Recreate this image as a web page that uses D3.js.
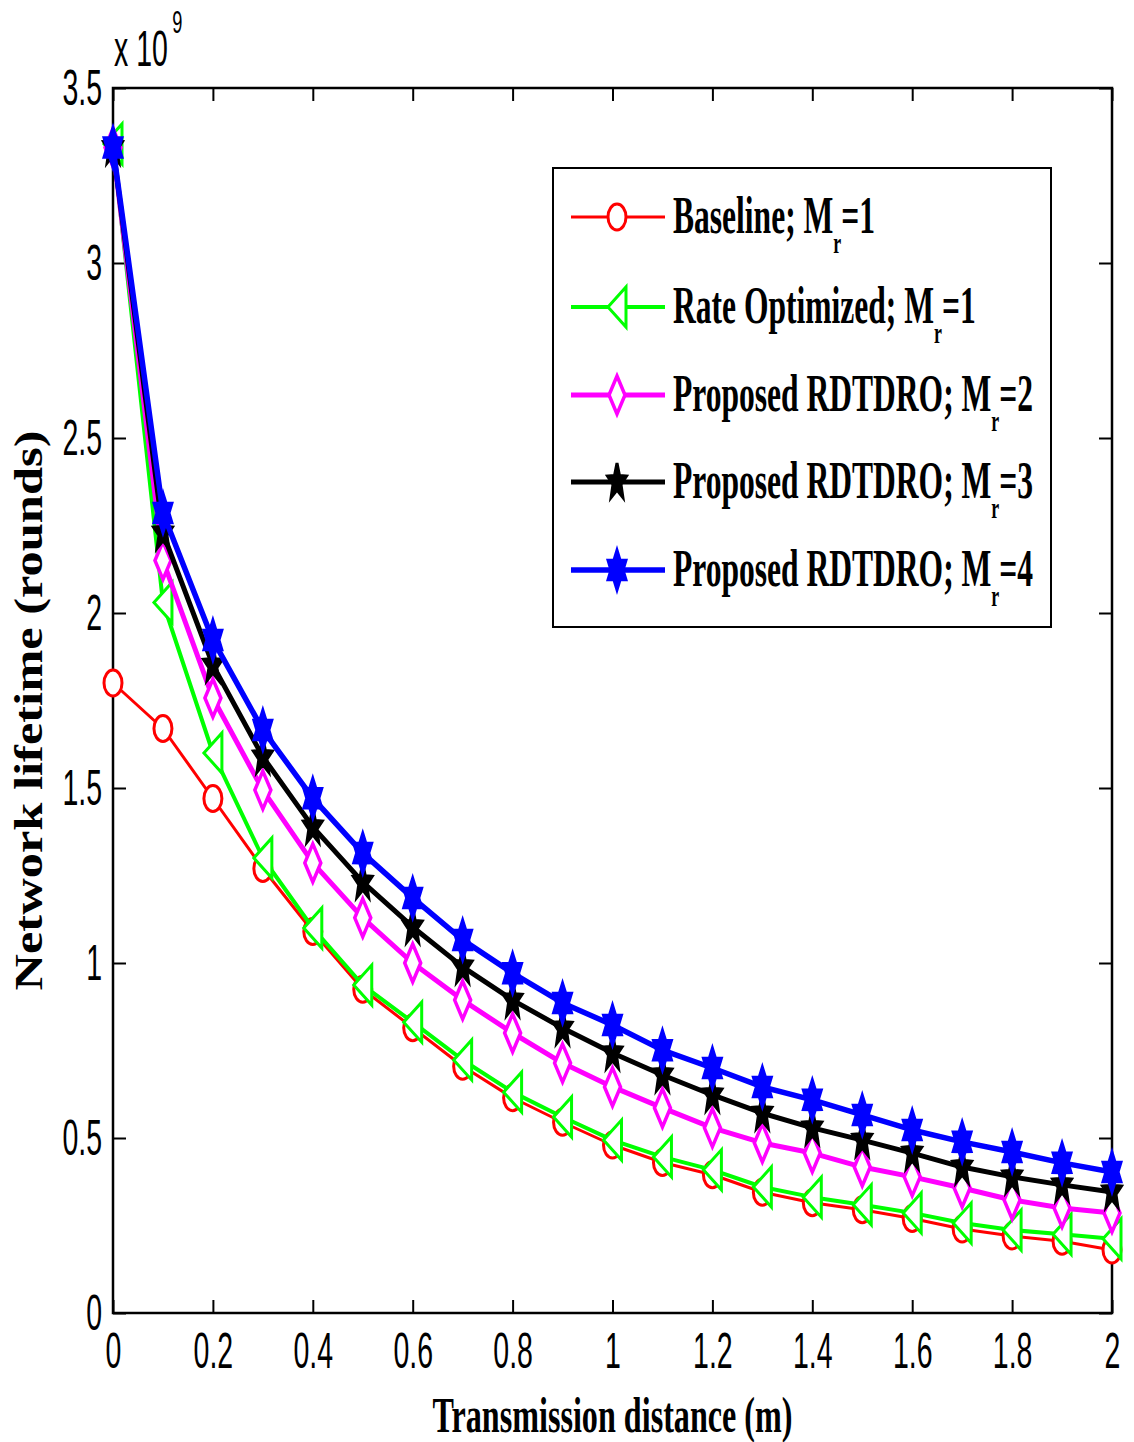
<!DOCTYPE html>
<html>
<head>
<meta charset="utf-8">
<script src="https://cdn.jsdelivr.net/npm/d3@7"></script>
<style>
  html, body { margin: 0; padding: 0; background: #fff; }
  svg { display: block; }
</style>
</head>
<body>
<svg id="chart" width="1134" height="1442"></svg>
<script>
// ---------------- data (values in units of 10^9 rounds) ----------------
const distance = [0, 0.1, 0.2, 0.3, 0.4, 0.5, 0.6, 0.7, 0.8, 0.9, 1.0, 1.1, 1.2, 1.3, 1.4, 1.5, 1.6, 1.7, 1.8, 1.9, 2.0];
const baseline = [1.80, 1.67, 1.47, 1.27, 1.09, 0.925, 0.815, 0.705, 0.615, 0.545, 0.48, 0.43, 0.395, 0.345, 0.315, 0.295, 0.27, 0.24, 0.22, 0.205, 0.18];
const rateOptimized = [3.34, 2.03, 1.60, 1.30, 1.10, 0.937, 0.831, 0.723, 0.631, 0.56, 0.494, 0.446, 0.409, 0.36, 0.331, 0.309, 0.286, 0.257, 0.237, 0.225, 0.212];
const proposedM2 = [3.33, 2.15, 1.757, 1.494, 1.286, 1.129, 1.0, 0.894, 0.8, 0.714, 0.646, 0.586, 0.529, 0.486, 0.457, 0.417, 0.389, 0.357, 0.323, 0.30, 0.286];
const proposedM3 = [3.33, 2.229, 1.851, 1.589, 1.389, 1.231, 1.103, 0.989, 0.894, 0.814, 0.743, 0.68, 0.623, 0.571, 0.529, 0.494, 0.457, 0.417, 0.389, 0.366, 0.346];
const proposedM4 = [3.33, 2.286, 1.923, 1.666, 1.471, 1.314, 1.186, 1.066, 0.971, 0.886, 0.823, 0.751, 0.70, 0.646, 0.609, 0.566, 0.523, 0.489, 0.46, 0.429, 0.403];

const legendMain = ["Baseline; M", "Rate Optimized; M", "Proposed RDTDRO; M", "Proposed RDTDRO; M", "Proposed RDTDRO; M"];
const legendSub = ["r", "r", "r", "r", "r"];
const legendTail = ["=1", "=1", "=2", "=3", "=4"];
const seriesColors = ["#ff0000", "#00ff00", "#ff00ff", "#000000", "#0000ff"];
const seriesMarkers = ["circle", "triangleLeft", "diamond", "pentagram", "hexagram"];

const xTicks = [0, 0.2, 0.4, 0.6, 0.8, 1, 1.2, 1.4, 1.6, 1.8, 2];
const yTicks = [0, 0.5, 1, 1.5, 2, 2.5, 3, 3.5];
const xLabel = "Transmission distance (m)";
const yLabel = "Network lifetime (rounds)";
const exponentBase = "x 10";
const exponent = "9";

const allSeries = [baseline, rateOptimized, proposedM2, proposedM3, proposedM4];

// ---------------- layout ----------------
const L = 113, R = 1112, T = 88, B = 1313;
const svg = d3.select("#chart");
const x = d3.scaleLinear().domain([0, 2]).range([L, R]);
const y = d3.scaleLinear().domain([0, 3.5]).range([B, T]);

const tickFont = "'Liberation Sans', Arial, sans-serif";
const serifFont = "'Liberation Serif', 'Times New Roman', serif";
const squeeze = 0.57;

function squeezeTexts(sel) {
  sel.selectAll(".tick text").each(function () {
    const t = d3.select(this);
    const tx = +t.attr("x") || 0;
    t.attr("x", 0).attr("transform", `translate(${tx},0) scale(${squeeze},1)`);
  });
}

// axes (with mirrored ticks, inward)
const fmt = d => String(d);
const gx = svg.append("g").attr("transform", `translate(0,${B})`)
  .call(d3.axisBottom(x).tickValues(xTicks).tickFormat(fmt).tickSize(-13).tickSizeOuter(0).tickPadding(20));
const gy = svg.append("g").attr("transform", `translate(${L},0)`)
  .call(d3.axisLeft(y).tickValues(yTicks).tickFormat(fmt).tickSize(-13).tickSizeOuter(0).tickPadding(11));
const gxt = svg.append("g").attr("transform", `translate(0,${T})`)
  .call(d3.axisTop(x).tickValues(xTicks).tickFormat("").tickSize(-13).tickSizeOuter(0));
const gyr = svg.append("g").attr("transform", `translate(${R},0)`)
  .call(d3.axisRight(y).tickValues(yTicks).tickFormat("").tickSize(-13).tickSizeOuter(0));

[gx, gy, gxt, gyr].forEach(g => {
  g.select(".domain").remove();
  g.selectAll(".tick line").attr("stroke", "#000").attr("stroke-width", 2);
  g.selectAll(".tick text").attr("fill", "#000").attr("font-family", tickFont).attr("font-size", 50);
});
squeezeTexts(gx);
squeezeTexts(gy);

svg.append("rect").attr("x", L).attr("y", T).attr("width", R - L).attr("height", B - T)
  .attr("fill", "none").attr("stroke", "#000").attr("stroke-width", 2.5);

// exponent label
const ex = svg.append("g").attr("transform", `translate(114,66) scale(${squeeze},1)`);
ex.append("text").attr("font-family", tickFont).attr("font-size", 50).attr("fill", "#000").text(exponentBase);
ex.append("text").attr("x", 102).attr("y", -33).attr("font-family", tickFont).attr("font-size", 32).attr("fill", "#000").text(exponent);

// axis labels
svg.append("text").attr("x", (L + R) / 2 - 180).attr("y", 1432)
  .attr("font-family", serifFont).attr("font-weight", "bold").attr("font-size", 50)
  .attr("textLength", 360).attr("lengthAdjust", "spacingAndGlyphs")
  .attr("fill", "#000").text(xLabel);

svg.append("text").attr("transform", `translate(42,${(T + B) / 2 + 290}) rotate(-90)`)
  .attr("font-family", serifFont).attr("font-weight", "bold").attr("font-size", 40)
  .attr("textLength", 560).attr("lengthAdjust", "spacingAndGlyphs")
  .attr("fill", "#000").text(yLabel);

// markers
function starPath(n, rx, ry, inner) {
  const pts = [];
  for (let i = 0; i < 2 * n; i++) {
    const a = -Math.PI / 2 + i * Math.PI / n;
    const r = i % 2 === 0 ? 1 : inner;
    pts.push([Math.cos(a) * rx * r, Math.sin(a) * ry * r]);
  }
  return "M" + pts.map(p => p.join(",")).join("L") + "Z";
}
const markerDefs = {
  circle: { d: "M-9,0A9,13 0 1,0 9,0A9,13 0 1,0 -9,0Z", fill: "#fff", sw: 3 },
  triangleLeft: { d: "M-9,0L9,-20L9,20Z", fill: "#fff", sw: 3 },
  diamond: { d: "M0,-19L8,0L0,19L-8,0Z", fill: "#fff", sw: 3.5 },
  pentagram: { d: starPath(5, 10, 19, 0.42), fill: null, sw: 3 },
  hexagram: { d: starPath(6, 10, 19, 0.58), fill: null, sw: 3.5 }
};
const lineWidths = [3, 4, 5, 5, 5.5];

const line = d3.line().x(d => x(d[0])).y(d => y(d[1]));

allSeries.forEach((vals, i) => {
  const pts = distance.map((d, k) => [d, vals[k]]);
  const g = svg.append("g");
  g.append("path").datum(pts).attr("d", line).attr("fill", "none")
    .attr("stroke", seriesColors[i]).attr("stroke-width", lineWidths[i]).attr("stroke-linejoin", "round");
  const m = markerDefs[seriesMarkers[i]];
  g.selectAll("path.mk").data(pts).enter().append("path").attr("class", "mk")
    .attr("d", m.d).attr("transform", d => `translate(${x(d[0])},${y(d[1])})`)
    .attr("fill", m.fill || seriesColors[i]).attr("stroke", seriesColors[i]).attr("stroke-width", m.sw)
    .attr("stroke-linejoin", "miter");
});

// legend
const lg = svg.append("g");
lg.append("rect").attr("x", 553).attr("y", 168).attr("width", 498).attr("height", 459)
  .attr("fill", "#fff").attr("stroke", "#000").attr("stroke-width", 2);
const legendY = [217, 307, 395, 482, 570];
const texts = [];
legendMain.forEach((name, i) => {
  const cy = legendY[i];
  lg.append("line").attr("x1", 571).attr("x2", 665).attr("y1", cy).attr("y2", cy)
    .attr("stroke", seriesColors[i]).attr("stroke-width", lineWidths[i]);
  const m = markerDefs[seriesMarkers[i]];
  lg.append("path").attr("d", m.d).attr("transform", `translate(617,${cy})`)
    .attr("fill", m.fill || seriesColors[i]).attr("stroke", seriesColors[i]).attr("stroke-width", m.sw);
  const t = lg.append("text").attr("font-family", serifFont).attr("font-weight", "bold")
    .attr("font-size", 53).attr("fill", "#000").attr("data-base", cy + 16);
  t.append("tspan").text(name);
  t.append("tspan").attr("font-size", 30).attr("dy", 20).text(legendSub[i]);
  t.append("tspan").attr("dy", -20).text(legendTail[i]);
  texts.push(t);
});
let maxW = 0;
texts.forEach(t => { maxW = Math.max(maxW, t.node().getComputedTextLength()); });
const lscale = 360 / maxW;
texts.forEach(t => {
  t.attr("transform", `translate(673,${t.attr("data-base")}) scale(${lscale},1)`);
});
</script>
</body>
</html>
